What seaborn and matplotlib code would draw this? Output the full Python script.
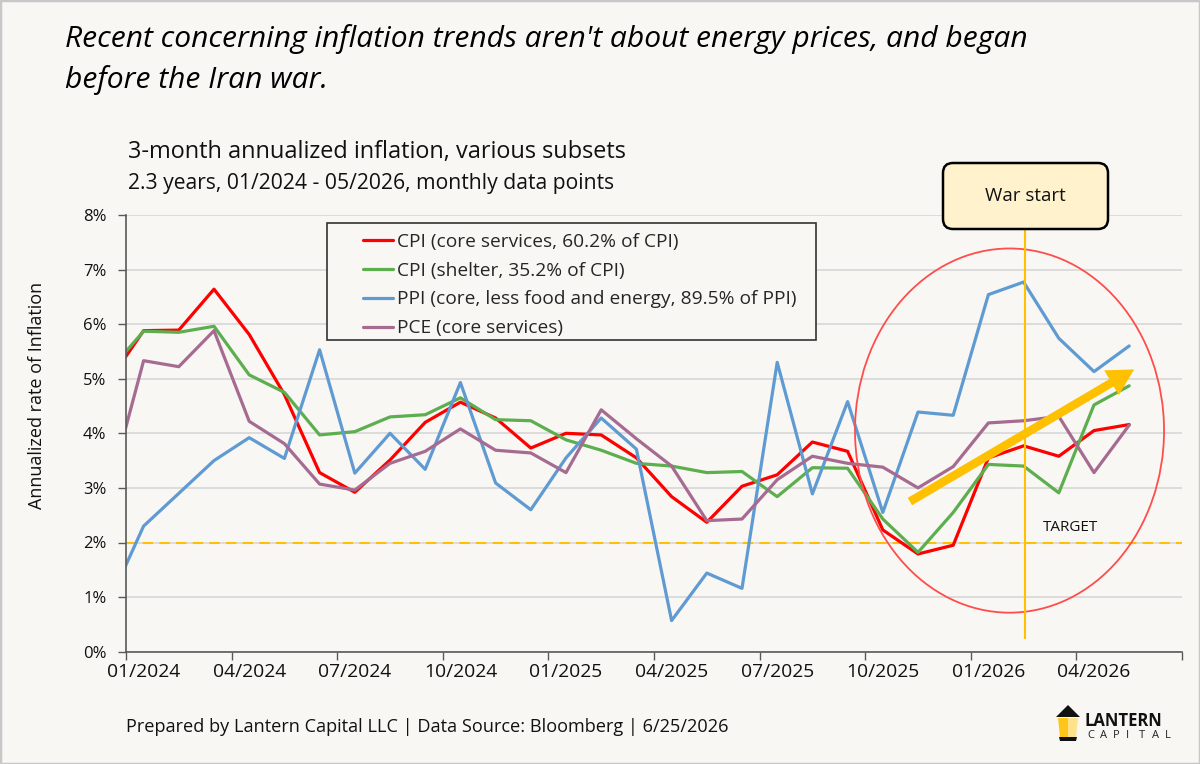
import matplotlib
matplotlib.use("Agg")
import matplotlib.pyplot as plt
import matplotlib.patches as mpatches
import matplotlib.transforms as mtransforms
from matplotlib.ticker import FixedLocator, NullFormatter, FixedFormatter
import numpy as np
import pandas as pd
import seaborn as sns

# monthly points, 12/2023 is only there so the first segment gets clipped at the axis
months = pd.period_range("2023-12", "2026-05", freq="M")
cpi_core_services = [4.94, 5.88, 5.89, 6.64, 5.81, 4.71, 3.28, 2.92, 3.51, 4.20, 4.57, 4.28, 3.73,
                     4.00, 3.97, 3.55, 2.84, 2.37, 3.03, 3.24, 3.84, 3.67, 2.23, 1.79, 1.95,
                     3.55, 3.77, 3.58, 4.05, 4.16]
cpi_shelter = [5.13, 5.87, 5.85, 5.96, 5.07, 4.75, 3.97, 4.03, 4.30, 4.34, 4.65, 4.25, 4.23,
               3.88, 3.69, 3.45, 3.40, 3.28, 3.30, 2.84, 3.37, 3.36, 2.43, 1.82, 2.55,
               3.43, 3.40, 2.91, 4.52, 4.87]
ppi_core = [0.88, 2.30, 2.90, 3.50, 3.92, 3.54, 5.53, 3.27, 4.00, 3.34, 4.93, 3.09, 2.60,
            3.55, 4.28, 3.71, 0.57, 1.44, 1.16, 5.30, 2.89, 4.58, 2.55, 4.39, 4.33,
            6.54, 6.77, 5.74, 5.13, 5.60]
pce_core_services = [2.91, 5.33, 5.22, 5.88, 4.22, 3.81, 3.07, 2.96, 3.45, 3.67, 4.08, 3.69, 3.64,
                     3.28, 4.43, 3.90, 3.40, 2.40, 2.43, 3.15, 3.58, 3.45, 3.38, 3.00, 3.39,
                     4.19, 4.23, 4.31, 3.28, 4.15]

series_names = ["CPI (core services, 60.2% of CPI)",
                "CPI (shelter, 35.2% of CPI)",
                "PPI (core, less food and energy, 89.5% of PPI)",
                "PCE (core services)"]
series_colors = ["#FF0000", "#5DAE4E", "#5F9BD2", "#A66B91"]
tick_labels = ["01/2024", "04/2024", "07/2024", "10/2024", "01/2025",
               "04/2025", "07/2025", "10/2025", "01/2026", "04/2026"]
target_rate = 2.0
war_month = 25  # 02/2026

month_idx = [(p.year - 2024) * 12 + p.month - 1 for p in months]
df = pd.DataFrame({"month": month_idx,
                   series_names[0]: cpi_core_services,
                   series_names[1]: cpi_shelter,
                   series_names[2]: ppi_core,
                   series_names[3]: pce_core_services})
df = df.melt(id_vars="month", var_name="series", value_name="rate")

W, H = 1200, 764
BG = "#F8F7F4"


def fx(x):
    return x / W


def fy(y):
    return 1 - y / H


sns.set_theme(style="white")
plt.rcParams["font.family"] = ["Open Sans", "DejaVu Sans"]

fig = plt.figure(figsize=(12, 7.64), dpi=100, facecolor=BG)
ax = fig.add_axes([fx(126), fy(651.7), (1182 - 126) / W, (651.7 - 214.9) / H])
ax.set_facecolor(BG)

sns.lineplot(data=df, x="month", y="rate", hue="series", hue_order=series_names,
             palette=dict(zip(series_names, series_colors)), estimator=None,
             linewidth=2.3, ax=ax)

ax.axhline(target_rate, color="#FFC000", lw=1.5, ls=(0, (5, 3)), zorder=1.5)

ax.set_xlim(-0.5, 29.5)
ax.set_ylim(0, 8)
ax.xaxis.set_major_locator(FixedLocator(np.arange(-0.5, 30, 3)))
ax.xaxis.set_major_formatter(NullFormatter())
ax.xaxis.set_minor_locator(FixedLocator(np.arange(0, 28, 3)))
ax.xaxis.set_minor_formatter(FixedFormatter(tick_labels))
ax.tick_params(axis="x", which="major", direction="out", length=6, width=1, color="#595959", bottom=True)
ax.tick_params(axis="x", which="minor", length=0, labelsize=13.9, pad=8, labelcolor="#111111", bottom=True)
ax.set_yticks(range(9))
ax.set_yticklabels([f"{i}%" for i in range(9)])
ax.tick_params(axis="y", direction="out", length=6, width=1, color="#595959", labelsize=12, pad=8,
               labelcolor="#111111", left=True)
ax.set_xlabel("")
ax.set_ylabel("")
for s in ["top", "right"]:
    ax.spines[s].set_visible(False)
for s in ["left", "bottom"]:
    ax.spines[s].set_color("#595959")
    ax.spines[s].set_linewidth(1.2)
ax.yaxis.grid(True, color="#DADADA", lw=1.3)
ax.xaxis.grid(False)
ax.set_axisbelow(True)

# legend with its own frame (wide left padding)
ident = mtransforms.IdentityTransform()
ax.add_patch(mpatches.Rectangle((327, H - 340), 489, 117, transform=ident, fc=BG, ec="#333333",
                                lw=1.2, clip_on=False, zorder=4))
handles, labels = ax.get_legend_handles_labels()
leg = ax.legend(handles, labels, loc="upper left", bbox_to_anchor=(fx(353), fy(223)),
                bbox_transform=fig.transFigure, frameon=False, borderpad=0, fontsize=13.8,
                handlelength=1.6, handletextpad=0.2, labelspacing=0.57)
leg.set_zorder(5)
for line in leg.get_lines():
    line.set_linewidth(2.3)

# highlight circle, trend arrow, war start marker
ax.add_patch(mpatches.Ellipse((24.6, 4.05), 8.78, 6.67, fill=False, ec="#FF4D4D", lw=1.3,
                              clip_on=False, zorder=6))
ax.annotate("", xy=(28.14, 5.17), xytext=(21.77, 2.75),
            arrowprops=dict(arrowstyle="simple,head_length=1.05,head_width=1.15,tail_width=0.34",
                            mutation_scale=18, fc="#FFC000", ec="none", shrinkA=0, shrinkB=0),
            zorder=7)
ax.vlines(war_month + 0.03, 0.24, 7.74, color="#FFC000", lw=1.5, clip_on=False, zorder=6)
ax.text(26.32, 2.27, "TARGET", ha="center", va="center", fontsize=11, color="#111111")

fig.add_artist(mpatches.FancyBboxPatch((943, H - 229), 165, 66, boxstyle="round,pad=0,rounding_size=10",
                                       transform=ident, fc="#FFF2CC", ec="black", lw=1.8))
fig.text(fx(1025.5), fy(196), "War start", ha="center", va="center", fontsize=13.5, color="#111111")

# titles
fig.text(fx(65), fy(47), "Recent concerning inflation trends aren't about energy prices, and began",
         fontsize=21.6, style="italic", color="black", va="baseline")
fig.text(fx(65), fy(88), "before the Iran war.", fontsize=21.6, style="italic", color="black", va="baseline")
fig.text(fx(128), fy(158), "3-month annualized inflation, various subsets", fontsize=16.9,
         color="#111111", va="baseline")
fig.text(fx(128), fy(189), "2.3 years, 01/2024 - 05/2026, monthly data points", fontsize=15.2,
         color="#111111", va="baseline")
fig.text(fx(37), fy(395), "Annualized rate of Inflation", rotation=90, ha="center", va="center",
         fontsize=13, color="#111111")
fig.text(fx(126), fy(732), "Prepared by Lantern Capital LLC | Data Source: Bloomberg | 6/25/2026",
         fontsize=13.1, color="#111111", va="baseline")

# logo
fig.add_artist(mpatches.Polygon([(1056, H - 717), (1080, H - 717), (1068, H - 705)], closed=True,
                                transform=ident, fc="#111111", ec="none"))
fig.add_artist(mpatches.Polygon([(1058, H - 718), (1068, H - 718), (1068, H - 737), (1060, H - 737)],
                                closed=True, transform=ident, fc="#FFC61A", ec="none"))
fig.add_artist(mpatches.Polygon([(1068, H - 718), (1078, H - 718), (1076, H - 737), (1068, H - 737)],
                                closed=True, transform=ident, fc="#FFE28A", ec="none"))
fig.add_artist(mpatches.Polygon([(1059, H - 737), (1077, H - 737), (1076, H - 741), (1060, H - 741)],
                                closed=True, transform=ident, fc="#111111", ec="none"))
fig.text(fx(1084), fy(726), "LANTERN", fontsize=12, fontweight="bold", color="#111111", va="baseline")
for i, ch in enumerate("CAPITAL"):
    fig.text(fx(1087 + i * 12.9), fy(738.5), ch, fontsize=8, color="#222222", va="baseline")

# outer frame
fig.add_artist(mpatches.Rectangle((0, 0), 1, 1, transform=fig.transFigure, fill=False,
                                  ec="#C8C8C8", lw=2.5))

fig.savefig("out.png", dpi=100, facecolor=BG)
